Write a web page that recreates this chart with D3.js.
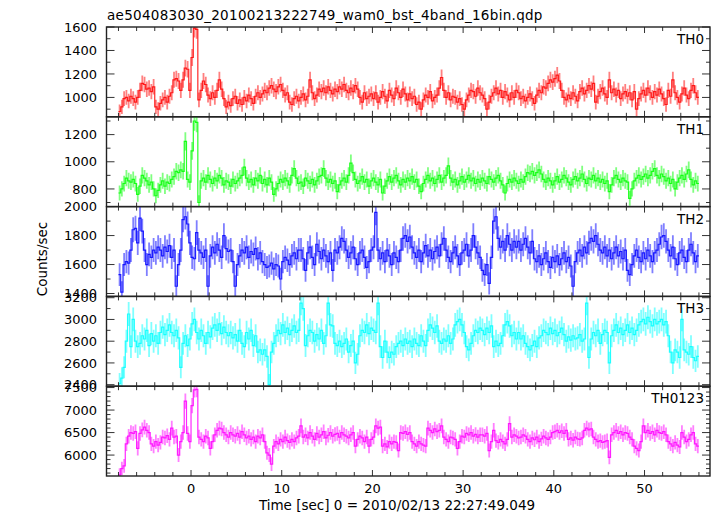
<!DOCTYPE html>
<html>
<head>
<meta charset="utf-8">
<script src="https://cdn.jsdelivr.net/npm/d3@7"></script>
<style>
  html, body { margin: 0; padding: 0; background: #fff; }
  svg text { font-family: "DejaVu Sans", "Liberation Sans", Arial, sans-serif; fill: #000; }
</style>
</head>
<body>
<svg id="chart" width="717" height="516"></svg>
<script>
// ---------------- DATA ----------------
const titleText = "ae504083030_20100213222749_wam0_bst_4band_16bin.qdp";
const xLabel = "Time [sec] 0 = 2010/02/13 22:27:49.049";
const yLabel = "Counts/sec";
const binStart = -8;      // seconds
const binWidth = 0.25;    // seconds
const bandNames = ["TH0", "TH1", "TH2", "TH3", "TH0123"];
const xTickLabels = [0, 10, 20, 30, 40, 50];

const th0 = [
 880,920,990,1000,970,1010,990,960,1000,1060,1120,1110,1070,1080,1050,1090,
 920,900,950,980,1000,960,1010,1040,1150,1160,1140,1060,1150,1250,1240,1060,
 1340,1590,1580,980,1060,1140,1110,1020,990,1040,1000,1060,1150,1070,990,920,
 960,930,990,1010,950,980,940,1000,970,1020,990,950,1010,1040,1000,1030,
 1060,1040,1080,1100,1070,1050,1090,1110,1060,1020,1040,960,940,990,1010,970,
 1000,1030,980,1010,1150,1040,990,1020,1070,1050,1080,1040,1090,1060,1030,1070,
 1050,1090,1070,1110,1060,1040,1080,1050,1100,1070,1000,960,1040,990,1010,1030,
 990,1040,960,1000,1050,1010,970,1060,1020,990,1080,1040,1000,1070,1030,980,
 1030,990,1010,940,960,900,980,1020,1000,1050,970,1000,1020,1080,1170,1060,
 1000,1040,980,1010,1000,960,990,940,900,980,1020,1060,1050,1010,1080,1040,
 1020,990,900,960,1010,1040,1080,1030,1060,1000,1050,1020,980,1040,1000,1060,
 1040,990,1010,970,1000,1030,990,950,1020,1060,1040,1090,1080,1120,1150,1130,
 1160,1190,1140,1060,1000,980,1020,990,1040,1010,970,1050,1080,1030,1060,1100,
 1070,1120,960,1010,1050,1080,1030,1000,1150,1040,1070,1020,1060,990,1030,1050,
 1010,1040,980,1050,900,990,1030,1060,1020,1080,1040,1000,1050,1020,1070,1030,
 990,940,1060,1010,1150,1040,1000,960,1030,1080,1020,990,1060,1100,1040,1000
];

const th1 = [
 770,800,840,880,860,850,870,840,760,820,900,880,860,830,850,800,
 750,790,830,860,820,850,840,870,890,930,920,940,930,1150,870,850,
 1080,1300,1290,700,860,880,850,900,870,840,880,860,900,880,830,860,
 850,820,870,840,860,880,900,960,880,850,870,830,880,860,900,840,
 870,830,880,850,760,800,840,870,850,880,860,830,900,950,880,840,
 850,820,880,860,840,870,830,860,890,900,950,880,850,870,840,860,
 780,830,860,880,850,900,990,920,870,840,860,890,850,870,820,860,
 880,850,830,870,770,820,860,890,850,880,900,860,830,870,850,880,
 860,890,850,870,820,780,840,870,900,860,880,840,870,900,850,880,
 900,970,880,850,870,830,860,890,850,870,900,860,880,840,870,850,
 880,860,840,890,870,850,880,900,860,830,770,840,870,850,880,860,
 840,870,850,890,920,910,930,900,920,940,910,870,850,880,860,830,
 860,890,850,870,900,880,850,830,870,890,860,880,910,870,840,880,
 870,900,860,880,850,870,840,860,780,830,880,900,870,850,880,860,
 850,730,800,860,880,900,870,890,910,880,900,930,950,900,880,910,
 890,860,880,840,870,800,850,880,900,870,910,940,870,830,860,840
];

const th2 = [
 1530,1410,1600,1620,1610,1700,1840,1850,1750,1920,1830,1700,1600,1670,1650,1700,
 1680,1720,1700,1660,1720,1690,1730,1650,1700,1450,1600,1700,1910,1930,1880,1750,
 1650,1640,1820,1700,1680,1650,1700,1450,1660,1720,1680,1740,1700,1650,1800,1710,
 1690,1700,1620,1450,1600,1660,1700,1680,1720,1650,1690,1670,1710,1640,1680,1620,
 1600,1580,1590,1610,1570,1600,1590,1500,1620,1650,1630,1600,1660,1680,1640,1700,
 1700,1640,1560,1680,1720,1650,1600,1740,1690,1640,1700,1660,1620,1680,1560,1700,
 1680,1720,1780,1760,1700,1650,1680,1720,1640,1600,1680,1700,1650,1580,1620,1700,
 1720,1960,1700,1640,1680,1620,1700,1660,1600,1680,1650,1620,1700,1780,1800,1760,
 1790,1720,1680,1650,1700,1620,1680,1730,1660,1700,1640,1690,1720,1660,1740,1780,
 1700,1650,1620,1680,1720,1660,1600,1680,1700,1740,1660,1700,1800,1720,1680,1650,
 1560,1530,1600,1470,1650,1900,1930,1780,1720,1760,1700,1800,1740,1700,1760,1720,
 1760,1700,1740,1780,1720,1680,1760,1640,1620,1660,1600,1640,1680,1620,1580,1650,
 1620,1660,1600,1640,1680,1620,1650,1590,1450,1620,1680,1700,1660,1720,1680,1750,
 1780,1760,1800,1740,1700,1680,1720,1660,1700,1640,1680,1720,1660,1690,1640,1700,
 1560,1530,1600,1660,1700,1650,1620,1680,1640,1700,1660,1620,1680,1700,1740,1790,
 1800,1760,1700,1660,1720,1640,1600,1680,1700,1650,1620,1700,1740,1680,1620,1660
];

const th3 = [
 2410,2460,2560,2800,3050,2750,3000,2800,2750,2780,2850,2820,2900,2760,2870,2800,
 2850,2780,2880,2930,2860,2900,2950,2880,2850,2900,2830,2560,2780,2850,2760,2820,
 2960,3000,2880,2820,2900,2850,2780,2880,2840,2920,2950,2900,2960,2870,2930,2880,
 2850,2880,2830,2860,2800,2900,2780,2750,2880,2820,2900,2760,2850,2700,2720,2680,
 2720,2660,2400,2700,2780,2850,2900,2870,2950,2880,2920,2860,2900,2940,2880,2900,
 3150,3100,2760,2850,2900,2880,2800,2860,2820,2900,2780,2850,3150,2950,2940,2780,
 2760,2800,2750,2780,2820,2700,2760,2800,2600,2680,2850,2900,2880,2950,2870,2920,
 2900,2880,3150,2750,2650,2800,2700,2650,2700,2680,2750,2780,2800,2760,2820,2780,
 2800,2750,2820,2780,2760,2850,2800,2760,2900,2950,2920,2880,2940,2800,2780,2820,
 2800,2850,2780,2820,2950,2980,3000,2950,2880,2750,2720,2780,2850,2900,2880,2920,
 2900,2860,2920,2880,2940,2750,2800,2760,2780,2850,2950,2980,2940,2850,2880,2820,
 2880,2820,2850,2780,2750,2720,2760,2800,2750,2830,2850,2900,2880,2860,2920,2870,
 2900,2850,2880,2920,2860,2800,2840,2810,2850,2820,2830,2860,2800,2820,3150,2650,
 2820,2880,2850,2900,2780,2860,2900,2880,2600,2850,2900,2950,2880,2920,2860,2900,
 2950,2880,2920,2860,2900,2950,2980,3000,2960,3020,2980,2940,3000,2960,2980,3000,
 2950,2980,2850,2700,2600,2720,2700,2650,3000,2720,2700,2680,2750,2650,2620,2660
];

const th0123 = [
 5560,5700,5760,6250,6420,6500,6480,6520,6150,6480,6560,6620,6550,6500,6250,6200,
 6300,6220,6280,6400,6380,6430,6350,6600,6400,6420,6000,6300,6500,7200,6480,6300,
 7100,7450,7460,6400,6350,6300,6420,6380,6150,6300,6450,6550,6600,6580,6500,6450,
 6400,6500,6450,6420,6480,6400,6520,6450,6380,6420,6350,6400,6300,6420,6380,6450,
 6300,6050,6000,5800,6200,6300,6250,6350,6300,6400,6320,6280,6350,6300,6380,6420,
 6650,6400,6450,6380,6500,6420,6350,6480,6400,6450,6520,6380,6440,6500,6420,6460,
 6480,6400,6500,6450,6420,6380,6450,6500,6200,6350,6420,6380,6300,6400,6200,6350,
 6400,6650,6600,6620,6200,6250,6180,6300,6250,6300,6280,6100,6500,6480,6520,6460,
 6500,6300,6250,6200,6300,6250,6220,6200,6600,6550,6500,6580,6520,6550,6650,6400,
 6350,6300,6400,6380,6350,6150,6300,6420,6400,6480,6450,6500,6420,6460,6400,6450,
 6450,6420,6480,6100,6300,6550,6320,6280,6350,6300,6250,6350,6700,6400,6450,6420,
 6380,6400,6450,6420,6350,6300,6380,6340,6400,6300,6360,6420,6380,6350,6400,6500,
 6520,6550,6500,6540,6480,6550,6350,6380,6330,6400,6360,6350,6380,6550,6600,6560,
 6580,6400,6350,6300,6320,6280,6300,6320,5950,6450,6500,6550,6480,6520,6450,6500,
 6480,6400,6350,6200,6150,6100,6300,6650,6500,6550,6480,6520,6450,6550,6500,6480,
 6520,6450,6300,6250,6200,6280,6220,6180,6500,6400,6300,6350,6450,6500,6250,6200
];

// y-axis ranges and tick spacing per panel
const yDomains = [[835, 1600], [670, 1331], [1380, 2000], [2386, 3212], [5535, 7530]];
const yMajorStep = [200, 200, 200, 200, 500];
const yMinorStep = [100, 100, 100, 100, 100];
const bandColors = ["#ff0000", "#00ff00", "#0000ff", "#00ffff", "#ff00ff"];
const bandValues = [th0, th1, th2, th3, th0123];

// ---------------- LAYOUT ----------------
(function () {
const svg = d3.select("#chart");
const pLeft = 106.5, pRight = 710, pTop = 27, pBottom = 476;
const nP = bandValues.length;
const pH = (pBottom - pTop) / nP;

const x = d3.scaleLinear().domain([-9.32, 57.22]).range([pLeft, pRight]);

svg.append("text")
  .attr("x", 107).attr("y", 20)
  .attr("font-size", 13.5).attr("letter-spacing", 0.3)
  .text(titleText);

const defs = svg.append("defs");

bandValues.forEach((vals, p) => {
  const y0 = pTop + p * pH, y1 = y0 + pH;
  const y = d3.scaleLinear().domain(yDomains[p]).range([y1, y0]);
  const g = svg.append("g");

  defs.append("clipPath").attr("id", "clip" + p)
    .append("rect").attr("x", pLeft).attr("y", y0).attr("width", pRight - pLeft).attr("height", pH);

  const dg = g.append("g").attr("clip-path", `url(#clip${p})`);
  const pts = vals.map((v, i) => ({ t: binStart + i * binWidth, v: v }));
  // Poisson error of counts in each bin, converted back to a rate
  const errs = vals.map(v => Math.sqrt(v * binWidth) / binWidth);

  // error bars (light)
  dg.selectAll("line.err").data(pts).join("line")
    .attr("x1", d => x(d.t + binWidth / 2)).attr("x2", d => x(d.t + binWidth / 2))
    .attr("y1", (d, i) => y(d.v - errs[i])).attr("y2", (d, i) => y(d.v + errs[i]))
    .attr("stroke", bandColors[p]).attr("stroke-width", 1.8).attr("stroke-opacity", 0.5);

  // step line
  const stepPts = pts.concat([{ t: binStart + vals.length * binWidth, v: vals[vals.length - 1] }]);
  dg.append("path")
    .attr("d", d3.line().x(d => x(d.t)).y(d => y(d.v)).curve(d3.curveStepAfter)(stepPts))
    .attr("fill", "none").attr("stroke", bandColors[p]).attr("stroke-width", 1.2).attr("stroke-opacity", 0.85);

  // ticks
  const axG = g.append("g").attr("stroke", "#333").attr("stroke-width", 1);
  const [dmin, dmax] = yDomains[p];
  const eps = 1e-6;
  const yMinor = d3.range(Math.ceil(dmin / yMinorStep[p]) * yMinorStep[p], dmax + eps, yMinorStep[p]);
  yMinor.forEach(v => {
    const isMajor = Math.abs(v % yMajorStep[p]) < eps;
    const len = isMajor ? 8 : 4;
    const yy = y(v);
    axG.append("line").attr("x1", pLeft).attr("x2", pLeft + len).attr("y1", yy).attr("y2", yy);
    axG.append("line").attr("x1", pRight).attr("x2", pRight - len).attr("y1", yy).attr("y2", yy);
    if (isMajor) {
      g.append("text").attr("x", 97).attr("y", yy).attr("dy", "0.36em")
        .attr("text-anchor", "end").attr("font-size", 13).text(v);
    }
  });
  const xMinor = d3.range(-8, 57, 2);
  xMinor.forEach(t => {
    const isMajor = t % 10 === 0;
    const len = isMajor ? 6 : 4;
    const xx = x(t);
    axG.append("line").attr("x1", xx).attr("x2", xx).attr("y1", y1).attr("y2", y1 - len);
    axG.append("line").attr("x1", xx).attr("x2", xx).attr("y1", y0).attr("y2", y0 + len);
  });

  // frame
  g.append("rect").attr("x", pLeft).attr("y", y0).attr("width", pRight - pLeft).attr("height", pH)
    .attr("fill", "none").attr("stroke", "#222").attr("stroke-width", 1.4);

  // band label
  g.append("text").attr("x", 704).attr("y", y0 + 17).attr("text-anchor", "end")
    .attr("font-size", 13.5).text(bandNames[p]);
});

// x tick labels
svg.selectAll("text.xt").data(xTickLabels).join("text")
  .attr("class", "xt")
  .attr("x", d => x(d)).attr("y", 493).attr("text-anchor", "middle")
  .attr("font-size", 13).text(d => d);

svg.append("text").attr("x", 397).attr("y", 510).attr("text-anchor", "middle")
  .attr("font-size", 13.5).text(xLabel);

svg.append("text").attr("transform", "translate(46.5,259) rotate(-90)")
  .attr("text-anchor", "middle").attr("font-size", 13.5).text(yLabel);
})();
</script>
</body>
</html>
